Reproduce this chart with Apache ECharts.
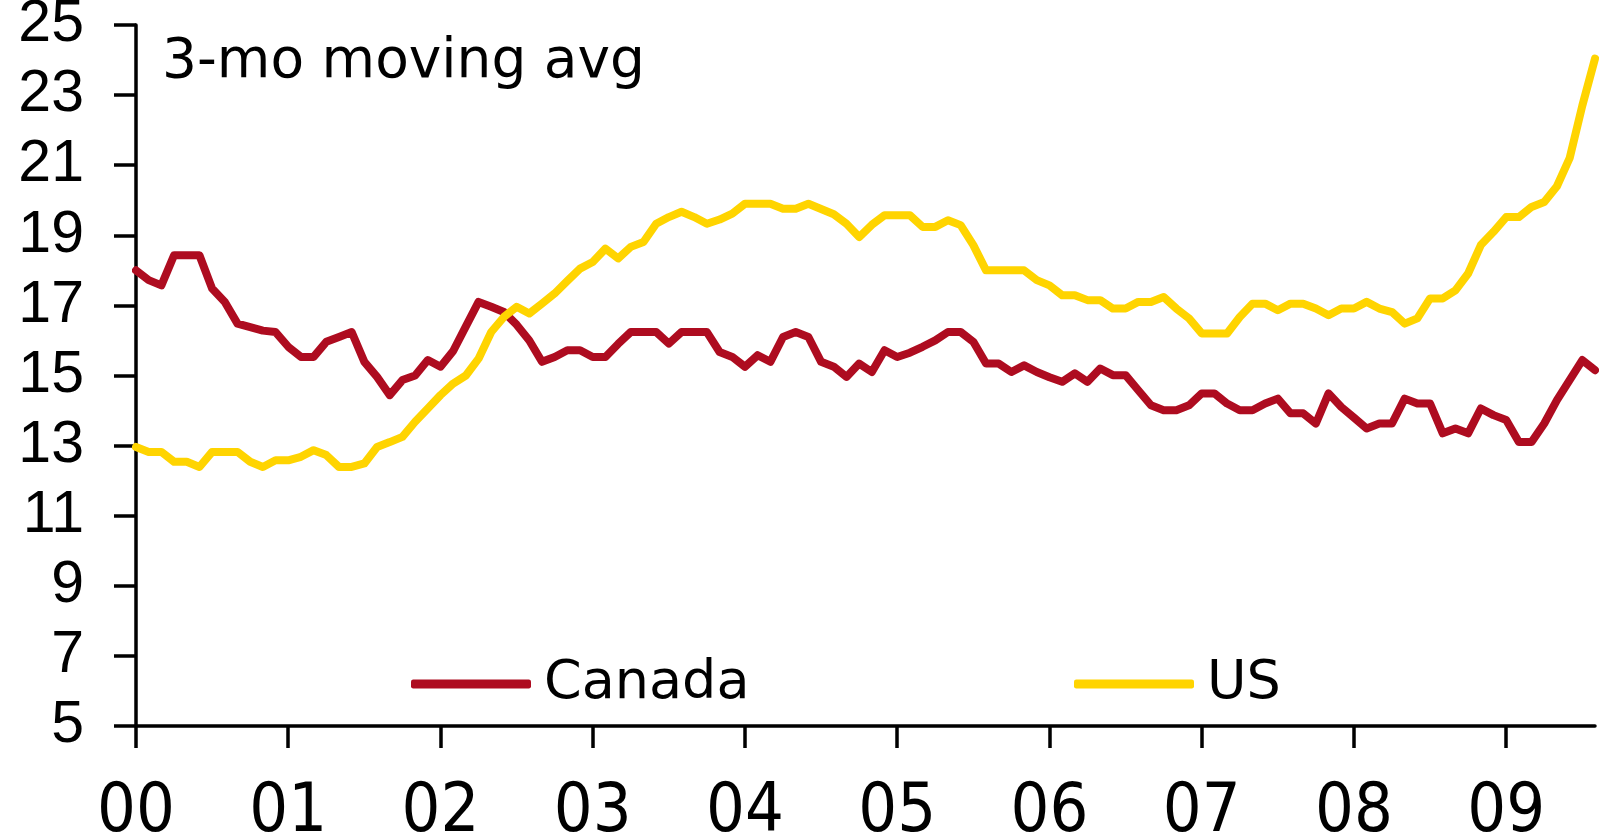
<!DOCTYPE html>
<html>
<head>
<meta charset="utf-8">
<title>3-mo moving avg</title>
<script src="https://cdn.jsdelivr.net/npm/echarts@6/dist/echarts.min.js"></script>
<style>
  html, body { margin: 0; padding: 0; background: #fff; }
  #chart { width: 1603px; height: 838px; }
</style>
</head>
<body>
<div id="chart"></div>
<script>
// monthly points, Jan 2000 .. Aug 2009
const months = [];
for (let y = 2000; y <= 2009; y++) {
  for (let m = 1; m <= 12; m++) {
    if (y === 2009 && m > 8) break;
    months.push(y + '-' + String(m).padStart(2, '0'));
  }
}

const canada = [
  18.0, 17.72, 17.57, 18.43, 18.43, 18.43, 17.48, 17.1, 16.48, 16.38,
  16.28, 16.24, 15.82, 15.53, 15.53, 15.96, 16.1, 16.24, 15.39, 14.96,
  14.44, 14.87, 15.0, 15.44, 15.25, 15.7, 16.4, 17.1, 16.96, 16.81,
  16.45, 16.0, 15.39, 15.53, 15.72, 15.72, 15.53, 15.53, 15.9, 16.24,
  16.24, 16.24, 15.91, 16.24, 16.24, 16.24, 15.67, 15.53, 15.25, 15.58,
  15.39, 16.1, 16.24, 16.1, 15.39, 15.25, 14.96, 15.34, 15.1, 15.72,
  15.53, 15.65, 15.82, 16.0, 16.24, 16.24, 15.96, 15.34, 15.34, 15.1,
  15.29, 15.1, 14.95, 14.82, 15.06, 14.82, 15.2, 15.01, 15.01, 14.58,
  14.15, 14.01, 14.01, 14.15, 14.49, 14.49, 14.2, 14.01, 14.01, 14.2,
  14.34, 13.92, 13.92, 13.63, 14.49, 14.1, 13.8, 13.49, 13.63, 13.63,
  14.34, 14.2, 14.2, 13.35, 13.49, 13.35, 14.06, 13.87, 13.73, 13.1,
  13.1, 13.63, 14.3, 14.87, 15.44, 15.15
];

const us = [
  12.96, 12.82, 12.82, 12.54, 12.54, 12.39, 12.82, 12.82, 12.82, 12.54,
  12.39, 12.58, 12.58, 12.68, 12.87, 12.73, 12.39, 12.39, 12.49, 12.96,
  13.1, 13.25, 13.68, 14.06, 14.44, 14.77, 15.0, 15.48, 16.24, 16.67,
  16.96, 16.77, 17.05, 17.34, 17.7, 18.05, 18.24, 18.62, 18.34, 18.67,
  18.81, 19.33, 19.52, 19.67, 19.52, 19.33, 19.45, 19.62, 19.9, 19.9,
  19.9, 19.76, 19.76, 19.9, 19.75, 19.6, 19.33, 18.95, 19.3, 19.57,
  19.57, 19.57, 19.24, 19.24, 19.43, 19.29, 18.72, 18.0, 18.0, 18.0,
  18.0, 17.72, 17.57, 17.29, 17.29, 17.15, 17.15, 16.91, 16.91, 17.1,
  17.1, 17.24, 16.91, 16.63, 16.2, 16.2, 16.2, 16.67, 17.05, 17.05,
  16.86, 17.05, 17.05, 16.91, 16.72, 16.91, 16.91, 17.1, 16.91, 16.81,
  16.48, 16.63, 17.2, 17.2, 17.43, 17.91, 18.72, 19.1, 19.52, 19.52,
  19.81, 19.95, 20.4, 21.2, 22.7, 24.04
];

const RED = '#AE0C20';
const GOLD = '#FFD400';

// one tick / label per January
const everyJan = (idx) => idx % 12 === 0;

let myChart = echarts.init(document.getElementById('chart'));
myChart.setOption({
  backgroundColor: '#fff',
  animation: false,
  title: {
    text: '3-mo moving avg',
    left: 157,
    top: 30,
    textStyle: { fontFamily: 'DejaVu Sans', fontWeight: 'normal', fontSize: 55, color: '#000' }
  },
  legend: [
    {
      data: ['Canada'],
      left: 406,
      top: 650,
      icon: 'roundRect',
      itemWidth: 120,
      itemHeight: 9,
      textStyle: { fontFamily: 'DejaVu Sans', fontSize: 54, color: '#000', lineHeight: 58, padding: [0, 0, 0, 8] }
    },
    {
      data: ['US'],
      left: 1069,
      top: 650,
      icon: 'roundRect',
      itemWidth: 120,
      itemHeight: 9,
      textStyle: { fontFamily: 'DejaVu Sans', fontSize: 54, color: '#000', lineHeight: 58, padding: [0, 0, 0, 8] }
    }
  ],
  grid: { left: 136, right: 8, top: 25, bottom: 112, containLabel: false, outerBoundsMode: 'none' },
  xAxis: {
    type: 'category',
    data: months,
    boundaryGap: false,
    axisLine: { show: true, lineStyle: { color: '#000', width: 3.5 } },
    axisTick: { show: true, interval: everyJan, length: 22, lineStyle: { color: '#000', width: 3.5 } },
    axisLabel: {
      interval: everyJan,
      hideOverlap: false,
      margin: 53,
      formatter: v => v.slice(2, 4),
      fontFamily: "'DejaVu Sans Condensed', 'DejaVu Sans'",
      fontSize: 68,
      color: '#000'
    },
    splitLine: { show: false }
  },
  yAxis: {
    type: 'value',
    min: 5,
    max: 25,
    interval: 2,
    axisLine: { show: true, lineStyle: { color: '#000', width: 3.5 } },
    axisTick: { show: true, length: 22, lineStyle: { color: '#000', width: 3.5 } },
    axisLabel: { margin: 52, fontFamily: 'Liberation Sans', fontSize: 59, color: '#000' },
    splitLine: { show: false }
  },
  series: [
    {
      name: 'Canada',
      type: 'line',
      data: canada,
      symbol: 'none',
      color: RED,
      lineStyle: { color: RED, width: 8, cap: 'round', join: 'round' }
    },
    {
      name: 'US',
      type: 'line',
      data: us,
      symbol: 'none',
      color: GOLD,
      lineStyle: { color: GOLD, width: 8, cap: 'round', join: 'round' }
    }
  ]
});
</script>
</body>
</html>
